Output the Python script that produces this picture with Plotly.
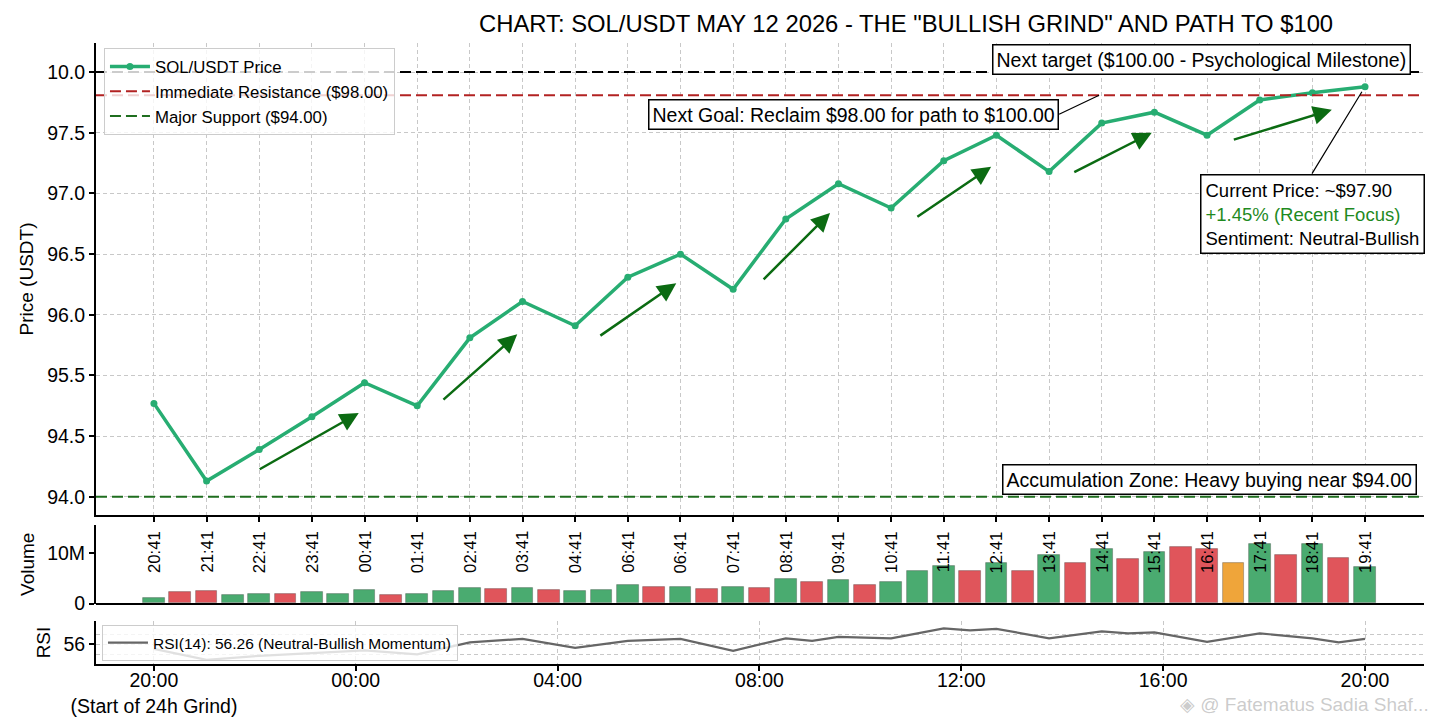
#
# SOL/USDT 24h "bullish grind" chart: price, volume and RSI stacked
# Plotly go all the way - px can't do the three-panel layout nicely
import numpy as np
import plotly.graph_objects as go

# Data --------------------------------------------------------------------------

# Hourly closes from 20:41 to 19:41 (the source labels the 05:41 slot as 06:41)
time_labels = ['20:41', '21:41', '22:41', '23:41', '00:41', '01:41', '02:41', '03:41',
               '04:41', '06:41', '06:41', '07:41', '08:41', '09:41', '10:41', '11:41',
               '12:41', '13:41', '14:41', '15:41', '16:41', '17:41', '18:41', '19:41']
price = [95.27, 94.63, 94.89, 95.16, 95.44, 95.25, 95.81, 96.11, 95.91, 96.31, 96.50, 96.21,
         96.79, 97.08, 96.88, 97.27, 97.48, 97.18, 97.58, 97.67, 97.48, 97.77, 97.83, 97.88]

# Half-hourly volume (millions). u = up candle, d = down candle, s = spike
volume_m = [1.0, 2.2, 2.5, 1.6, 1.8, 1.8, 2.2, 1.8, 2.6, 1.6, 1.8, 2.4, 3.0, 2.8, 3.1, 2.6,
            2.4, 2.6, 3.6, 3.2, 3.2, 2.8, 3.3, 3.1, 4.8, 4.3, 4.7, 3.6, 4.3, 6.4, 7.5, 6.4,
            8.0, 6.4, 9.7, 8.0, 10.9, 8.8, 10.2, 11.2, 10.9, 8.1, 11.8, 9.7, 11.9, 9.1, 7.3]
volume_dir = ['u', 'd', 'd', 'u', 'u', 'd', 'u', 'u', 'u', 'd', 'u', 'u', 'u', 'd', 'u', 'd',
              'u', 'u', 'u', 'd', 'u', 'd', 'u', 'd', 'u', 'd', 'u', 'd', 'u', 'u', 'u', 'd',
              'u', 'd', 'u', 'd', 'u', 'd', 'u', 'd', 'd', 's', 'u', 'd', 'u', 'd', 'u']

# RSI(14) - slots in hours since 20:41
rsi_x = [0, 1, 2, 3, 4, 5, 6, 7, 8, 9, 10, 11, 12, 12.5, 13, 14, 15, 15.5, 16, 17, 18, 18.5,
         19, 20, 21, 22, 22.5, 23]
rsi = [55.1, 52.9, 53.7, 54.3, 54.8, 54.0, 56.4, 57.1, 55.3, 56.7, 57.1, 54.7, 57.2, 56.7,
       57.5, 57.2, 59.2, 58.8, 59.1, 57.2, 58.6, 58.2, 58.4, 56.5, 58.2, 57.2, 56.4, 57.1]

bottom_labels = ['20:00<br>(Start of 24h Grind)', '00:00', '04:00', '08:00', '12:00',
                 '16:00', '20:00']

# Key levels, on the chart's own price scale
target_level = 98.0
resistance_level = 97.81
support_level = 94.5

# The y tick labels in the source are a bit off, keep them as drawn
price_ticks = [94.5, 95.0, 95.5, 96.0, 96.5, 97.0, 97.5, 98.0]
price_tick_text = ['94.0', '94.5', '95.5', '96.0', '96.5', '97.0', '97.5', '10.0']

# Trend arrows: (x0, y0) -> (x1, y1)
arrows = [
    (1.98, 94.72, 3.89, 95.19),
    (5.47, 95.29, 6.90, 95.84),
    (8.45, 95.82, 9.92, 96.26),
    (11.55, 96.28, 12.84, 96.84),
    (14.47, 96.80, 15.90, 97.22),
    (17.45, 97.17, 18.95, 97.50),
    (20.48, 97.44, 22.37, 97.69),
]

# Constants ---------------------------------------------------------------------

FONT = 'Liberation Sans, Arial, sans-serif'
col_price = '#27ad72'
col_arrow = '#0b6b12'
col_bar = {'u': '#4aab70', 'd': '#e0555b', 's': '#efa53a'}
col_grid = '#c8c8c8'
x_range = [-1.10, 24.12]

hours = list(range(len(price)))
vol_x = np.arange(len(volume_m)) * 0.5
bottom_pos = np.linspace(0, hours[-1], len(bottom_labels))

# Figure ------------------------------------------------------------------------

fig = go.Figure()

fig.add_trace(go.Scatter(
    x=hours, y=price, mode='lines+markers', name='SOL/USDT Price',
    line=dict(color=col_price, width=3.5), marker=dict(size=7, color=col_price),
    xaxis='x', yaxis='y', legend='legend'))

fig.add_trace(go.Bar(
    x=vol_x, y=volume_m, width=0.41, showlegend=False,
    marker=dict(color=[col_bar[d] for d in volume_dir],
                line=dict(color='rgba(70,70,70,0.45)', width=0.8)),
    xaxis='x2', yaxis='y2'))

fig.add_trace(go.Scatter(
    x=rsi_x, y=rsi, mode='lines', name='RSI(14): 56.26 (Neutral-Bullish Momentum)',
    line=dict(color='#666666', width=2.2), xaxis='x3', yaxis='y3', legend='legend2'))

# Level lines across the price panel
fig.add_shape(type='line', xref='x domain', x0=0, x1=1, yref='y',
              y0=target_level, y1=target_level,
              line=dict(color='black', width=2, dash='11px,5px'))
fig.add_shape(type='line', xref='x domain', x0=0, x1=1, yref='y',
              y0=resistance_level, y1=resistance_level,
              line=dict(color='#b22222', width=2, dash='11px,5px'),
              showlegend=True, name='Immediate Resistance ($98.00)', legend='legend')
fig.add_shape(type='line', xref='x domain', x0=0, x1=1, yref='y',
              y0=support_level, y1=support_level,
              line=dict(color='#1f6e1f', width=2, dash='11px,5px'),
              showlegend=True, name='Major Support ($94.00)', legend='legend')

# Hour labels, rotated, hanging down from the top of the volume panel
# (done as annotations so they sit on top of the bars)
for h, lab in zip(hours, time_labels):
    fig.add_annotation(x=h, xref='x2', y=1, yref='y2 domain', yanchor='top', yshift=-4,
                       text=lab, textangle=-90, showarrow=False,
                       font=dict(size=16.7, color='black'))

# Arrows
for x0, y0, x1, y1 in arrows:
    fig.add_annotation(
        x=x1, y=y1, ax=x0, ay=y0, xref='x', yref='y', axref='x', ayref='y',
        text='', showarrow=True, arrowhead=2, arrowsize=1.5, arrowwidth=2.5,
        arrowcolor=col_arrow, standoff=0)

box = dict(bgcolor='white', bordercolor='black', borderwidth=1.5, borderpad=3,
           font=dict(size=19.5, color='black'))

fig.add_annotation(x=19.9, y=98.107, xref='x', yref='y', showarrow=False,
                   text='Next target ($100.00 - Psychological Milestone)', **box)
fig.add_annotation(x=20.04, y=94.642, xref='x', yref='y', showarrow=False,
                   text='Accumulation Zone: Heavy buying near $94.00', **box)
fig.add_annotation(x=17.95, y=resistance_level, xref='x', yref='y',
                   ax=-40, ay=19, xanchor='right', yanchor='middle',
                   showarrow=True, arrowhead=0, arrowwidth=1.2, arrowcolor='black',
                   text='Next Goal: Reclaim $98.00 for path to $100.00', **box)
fig.add_annotation(x=hours[-1], y=price[-1], xref='x', yref='y',
                   ax=-53, ay=87, xanchor='center', yanchor='top', align='left',
                   showarrow=True, arrowhead=0, arrowwidth=1.2, arrowcolor='black', standoff=6,
                   text=('Current Price: ~$97.90<br>'
                         '<span style="color:#1f8a1f">+1.45% (Recent Focus)</span><br>'
                         'Sentiment: Neutral-Bullish'),
                   bgcolor='white', bordercolor='black', borderwidth=1.5, borderpad=4,
                   font=dict(size=18.5, color='black'))

# Watermark bottom right (kept just under the time labels)
fig.add_annotation(x=1.005, y=-0.066, xref='paper', yref='paper', xanchor='right',
                   yanchor='middle', showarrow=False, text='◈ @ Fatematus Sadia Shaf...',
                   font=dict(size=19, color='rgba(160,160,160,0.55)'))

# Layout ------------------------------------------------------------------------

spine = dict(showline=True, linecolor='black', linewidth=2, zeroline=False,
             ticks='outside', ticklen=5, tickwidth=1.5, tickcolor='black',
             tickfont=dict(size=19.5, color='black'))
grid = dict(showgrid=True, gridcolor=col_grid, griddash='4px,3px', gridwidth=1)
legend_box = dict(xanchor='left', yanchor='top', bgcolor='rgba(255,255,255,0.8)',
                  bordercolor='#cccccc', borderwidth=1, itemwidth=40)

fig.update_layout(
    width=1440, height=720,
    template='none',
    font=dict(family=FONT, color='black'),
    paper_bgcolor='white', plot_bgcolor='white',
    margin=dict(l=96, r=16, t=43, b=56),
    bargap=0,
    title=dict(text='CHART: SOL/USDT MAY 12 2026 - THE "BULLISH GRIND" AND PATH TO $100',
               font=dict(size=23.8, color='black'), xref='paper', x=0.61, xanchor='center',
               yref='container', y=1 - 24 / 720, yanchor='middle'),
    # price panel
    xaxis=dict(domain=[0, 1], anchor='y', range=x_range, tickvals=hours,
               showticklabels=False, **spine, **grid),
    yaxis=dict(domain=[0.2399, 1], anchor='x', range=[94.35, 98.24],
               tickvals=price_ticks, ticktext=price_tick_text,
               title=dict(text='Price (USDT)', font=dict(size=19), standoff=8),
               **spine, **grid),
    # volume panel
    xaxis2=dict(domain=[0, 1], anchor='y2', range=x_range, showticklabels=False,
                ticks='', showline=False, showgrid=False, zeroline=False),
    yaxis2=dict(domain=[0.0974, 0.2238], anchor='x2', range=[0, 15.6],
                tickvals=[0, 10], ticktext=['0', '10M'], showgrid=False,
                showline=True, linecolor='black', linewidth=2,
                ticks='outside', ticklen=5, tickwidth=1.5, tickcolor='black',
                tickfont=dict(size=19.5, color='black'),
                zeroline=True, zerolinecolor='black', zerolinewidth=2,
                title=dict(text='Volume', font=dict(size=19), standoff=8)),
    # rsi panel
    xaxis3=dict(domain=[0, 1], anchor='y3', range=x_range, tickvals=bottom_pos,
                ticktext=bottom_labels, ticklabelstandoff=-7, **spine, **grid),
    yaxis3=dict(domain=[0, 0.0692], anchor='x3', range=[52.06, 60.66],
                tickvals=[56], ticktext=['56'],
                minor=dict(tickvals=[54, 58], showgrid=True, gridcolor=col_grid,
                           griddash='4px,3px', ticklen=0),
                title=dict(text='RSI', font=dict(size=19), standoff=8),
                **spine, **grid),
    legend=dict(x=0.006, y=0.992, font=dict(size=16.8), **legend_box),
    legend2=dict(x=0.0045, y=0.0628, font=dict(size=15.5), **legend_box),
)

# page body has a default 8px margin, drop it so the chart sits at 0,0
fig.write_html("out.html", config={'displayModeBar': False},
               post_script="document.body.style.margin='0';")
